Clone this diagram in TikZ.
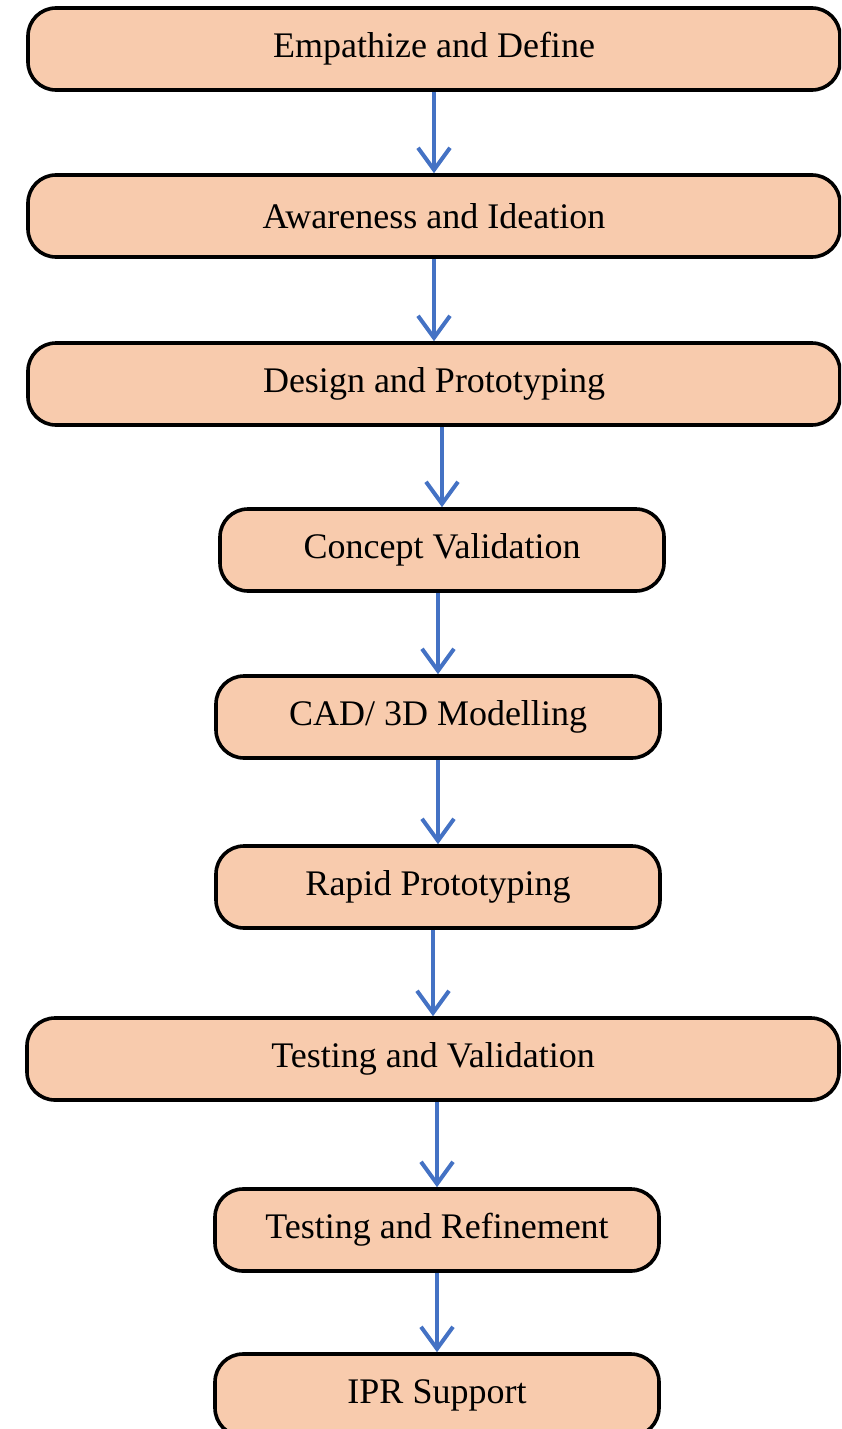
\documentclass[tikz,border=0pt]{standalone}
\usepackage{fontspec}
\setmainfont{Liberation Serif}
\usetikzlibrary{arrows.meta}
\definecolor{peach}{HTML}{F8CBAD}
\definecolor{flowblue}{HTML}{4472C4}
\begin{document}
\begin{tikzpicture}[x=0.5pt,y=-0.5pt,
    stage/.style={draw,line width=1.8pt,fill=peach,rounded corners=14pt,
      minimum height=41pt,inner sep=0pt,font=\fontsize{18}{22}\selectfont},
    wide/.style={stage,minimum width=406pt},
    narrow/.style={stage,minimum width=222pt},
    flow/.style={draw=flowblue,line width=2pt,
      -{Straight Barb[length=11pt,width=16pt,line width=2pt]}}]
  \clip (0,0) rectangle (841,1429);
  \node[wide] (s1) at (434, 49) {Empathize and Define};
  \node[wide] (s2) at (434, 216) {Awareness and Ideation};
  \node[wide] (s3) at (434, 384) {Design and Prototyping};
  \node[narrow] (s4) at (442, 550) {Concept Validation};
  \node[narrow] (s5) at (438, 717) {CAD/ 3D Modelling};
  \node[narrow] (s6) at (438, 887) {Rapid Prototyping};
  \node[wide] (s7) at (433, 1059) {Testing and Validation};
  \node[narrow] (s8) at (437, 1230) {Testing and Refinement};
  \node[narrow] (s9) at (437, 1395) {IPR Support};
  \foreach \a/\b in {s1/s2,s2/s3,s3/s4,s4/s5,s5/s6,s6/s7,s7/s8,s8/s9}
    \draw[flow] (\b.north |- \a.south) -- (\b.north);
\end{tikzpicture}
\end{document}
